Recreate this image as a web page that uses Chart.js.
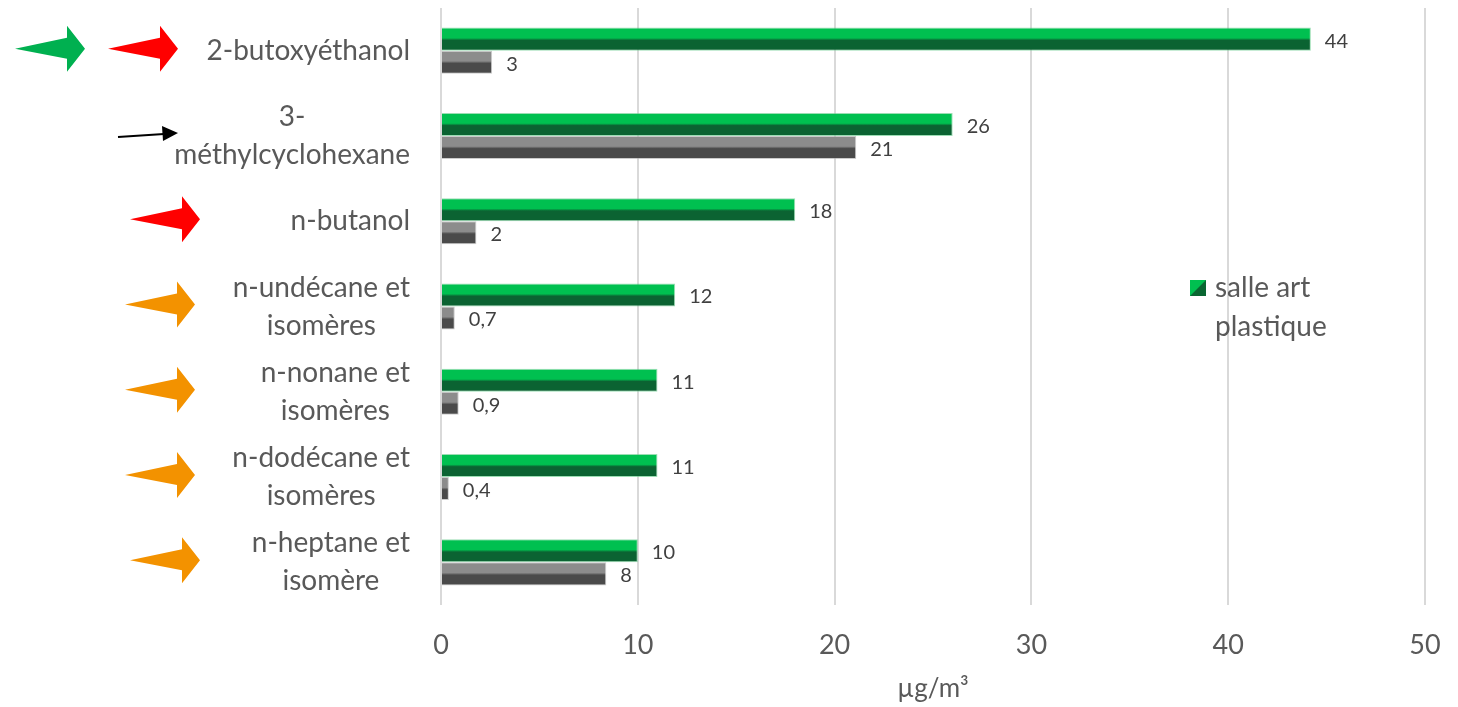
<!DOCTYPE html>
<html>
<head>
<meta charset="utf-8">
<script src="https://cdn.jsdelivr.net/npm/chart.js@4/dist/chart.umd.min.js"></script>
<style>
html, body { margin: 0; background: #fff; }
#wrap { width: 1458px; height: 707px; }
</style>
</head>
<body>
<div id="wrap"><canvas id="graphic1"></canvas></div>
<script>
var categories = [
    ["2-butoxyéthanol"],
    ["3-", "méthylcyclohexane"],
    ["n-butanol"],
    ["n-undécane et", "isomères"],
    ["n-nonane et", "isomères"],
    ["n-dodécane et", "isomères"],
    ["n-heptane et", "isomère"]
]
var salleArt = [44.2, 26, 18, 11.9, 11, 11, 10]
var salleRef = [2.6, 21.1, 1.8, 0.7, 0.9, 0.4, 8.4]
var xTicks = [0, 10, 20, 30, 40, 50]
var arrowColors = [["#00b050", "#ff0000"], ["#000000"], ["#ff0000"], ["#f39200"], ["#f39200"], ["#f39200"], ["#f39200"]]

var textColor = "#595959"
var font = "Lato, 'Open Sans', sans-serif"

function fmt(v) {
    if (v < 1) return v.toFixed(1).replace(".", ",")
    return String(Math.round(v))
}

// two-tone "bevel" fill: light upper half, dark lower half
function bevel(light, dark, side) {
    return function (c) {
        var chart = c.chart
        var y = chart.scales.y
        if (!y || !chart.chartArea || c.dataIndex === undefined) return dark
        var center = y.getPixelForValue(c.dataIndex)
        var w = (y.height / categories.length) * 0.54 / 2
        var top = side === 0 ? center - w : center
        var g = chart.ctx.createLinearGradient(0, top, 0, top + w)
        g.addColorStop(0, light)
        g.addColorStop(0.45, light)
        g.addColorStop(0.55, dark)
        g.addColorStop(1, dark)
        return g
    }
}

function arrow(ctx, tip, y, color) {
    ctx.fillStyle = color
    ctx.beginPath()
    ctx.moveTo(tip - 70, y)
    ctx.lineTo(tip - 18, y - 11)
    ctx.lineTo(tip - 18, y - 23)
    ctx.lineTo(tip, y)
    ctx.lineTo(tip - 18, y + 23)
    ctx.lineTo(tip - 18, y + 10)
    ctx.closePath()
    ctx.fill()
}

var decor = {
    id: "decor",
    afterDraw: function (chart) {
        var ctx = chart.ctx
        var y = chart.scales.y
        var area = chart.chartArea
        ctx.save()

        // category labels, each block right aligned, lines centred
        ctx.font = "28px " + font
        ctx.fillStyle = textColor
        ctx.textBaseline = "middle"
        ctx.textAlign = "center"
        categories.forEach(function (lines, i) {
            var cy = y.getPixelForValue(i)
            var widest = 0
            lines.forEach(function (l) { widest = Math.max(widest, ctx.measureText(l).width) })
            var cx = area.left - 31 - widest / 2
            lines.forEach(function (l, k) {
                ctx.fillText(l, cx, cy + (k - (lines.length - 1) / 2) * 38)
            })
        })

        // arrows
        arrowColors.forEach(function (cols, i) {
            var cy = y.getPixelForValue(i) - 2
            if (i === 0) {
                arrow(ctx, 85, cy, cols[0])
                arrow(ctx, 178, cy, cols[1])
            } else if (cols[0] === "#000000") {
                ctx.strokeStyle = "#000"
                ctx.fillStyle = "#000"
                ctx.lineWidth = 2
                ctx.beginPath()
                ctx.moveTo(118, cy + 3)
                ctx.lineTo(164, cy)
                ctx.stroke()
                ctx.beginPath()
                ctx.moveTo(178, cy - 1)
                ctx.lineTo(162, cy - 8)
                ctx.lineTo(163, cy + 7)
                ctx.closePath()
                ctx.fill()
            } else {
                arrow(ctx, i === 2 || i === 6 ? 200 : 195, cy, cols[0])
            }
        })

        // value labels
        ctx.font = "20px " + font
        ctx.textAlign = "left"
        ctx.fillStyle = "#404040"
        chart.data.datasets.forEach(function (ds, d) {
            chart.getDatasetMeta(d).data.forEach(function (bar, i) {
                ctx.fillText(fmt(ds.data[i]), bar.x + 14, bar.y + 2)
            })
        })

        // legend (first series only)
        var lx = 1190, ly = 288
        ctx.fillStyle = "#0a6632"
        ctx.fillRect(lx, ly - 8, 16, 16)
        ctx.fillStyle = "#00c050"
        ctx.beginPath()
        ctx.moveTo(lx, ly - 8)
        ctx.lineTo(lx + 16, ly - 8)
        ctx.lineTo(lx, ly + 8)
        ctx.closePath()
        ctx.fill()
        ctx.font = "28px " + font
        ctx.fillStyle = textColor
        ctx.fillText("salle art", lx + 25, ly)
        ctx.fillText("plastique", lx + 25, ly + 39)
        ctx.restore()
    }
}

var graph = new Chart(document.getElementById("graphic1").getContext("2d"), {
    type: "bar",
    data: {
        labels: categories,
        datasets: [{
            label: "salle art plastique",
            data: salleArt,
            backgroundColor: bevel("#00c050", "#0b6332", 0),
            borderColor: "rgba(90, 200, 130, 0.6)",
            borderWidth: 1
        },
        {
            label: "référence",
            data: salleRef,
            backgroundColor: bevel("#8c8c8c", "#4a4a4a", 1),
            borderColor: "rgba(170, 170, 170, 0.6)",
            borderWidth: 1
        }]
    },
    options: {
        indexAxis: "y",
        responsive: true,
        maintainAspectRatio: false,
        animation: false,
        categoryPercentage: 0.54,
        barPercentage: 1,
        layout: { padding: { left: 441, right: 33, top: 8, bottom: 3 } },
        plugins: {
            legend: { display: false },
            tooltip: { enabled: false }
        },
        scales: {
            y: { display: false },
            x: {
                min: 0,
                max: 50,
                afterBuildTicks: function (axis) {
                    axis.ticks = xTicks.map(function (v) { return { value: v } })
                },
                afterFit: function (axis) {
                    axis.height = 99
                    axis.paddingLeft = 0
                    axis.paddingRight = 0
                },
                grid: { color: "#d9d9d9", lineWidth: 2, drawTicks: false },
                border: { display: false },
                ticks: { color: textColor, font: { size: 27, family: font }, padding: 24 },
                title: {
                    display: true,
                    text: "µg/m³",
                    color: textColor,
                    font: { size: 26, family: font },
                    padding: { top: 0, bottom: 0 }
                }
            }
        }
    },
    plugins: [decor]
})
</script>
</body>
</html>
